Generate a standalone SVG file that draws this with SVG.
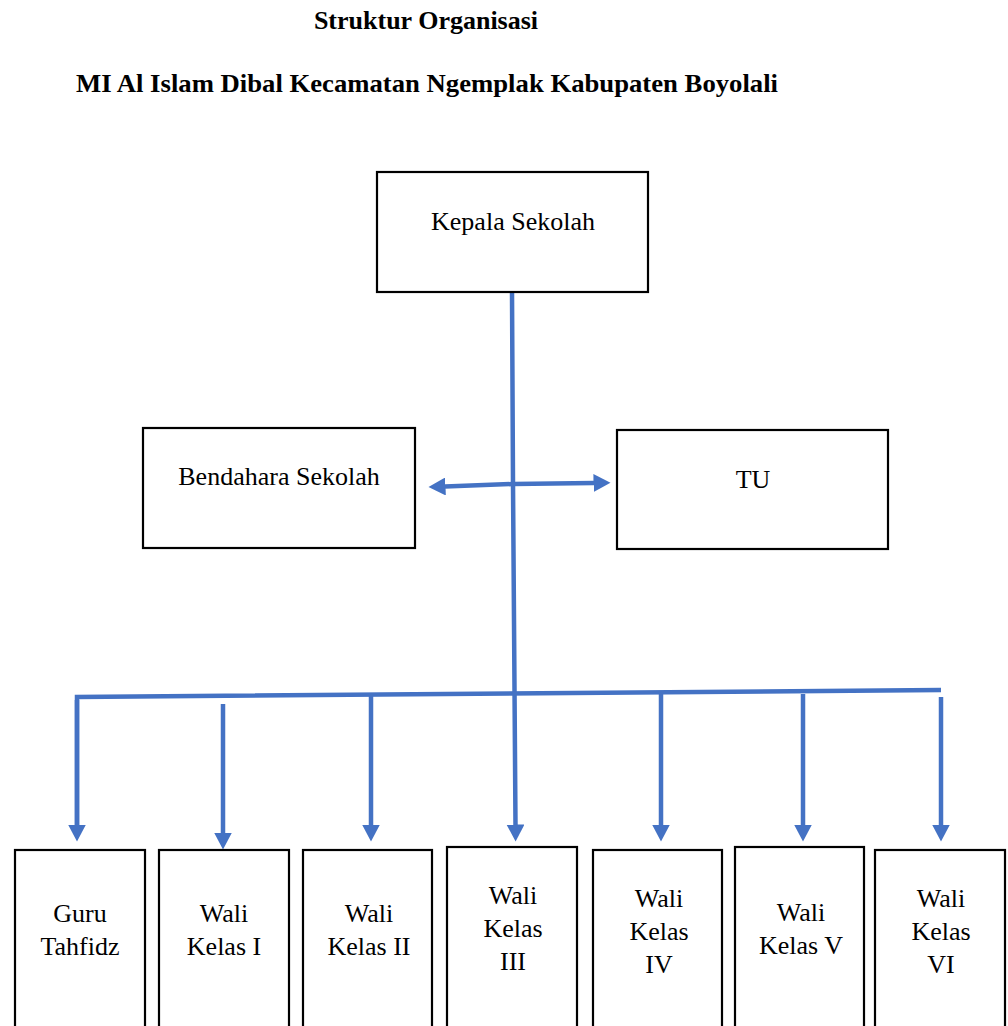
<svg xmlns="http://www.w3.org/2000/svg" width="1008" height="1026" viewBox="0 0 1008 1026">
<style>
  .box { fill: #ffffff; stroke: #000000; stroke-width: 2.2; }
  .t { font-family: "Liberation Serif", "Times New Roman", serif; font-size: 26px; fill: #000000; text-anchor: middle; }
  .title { font-family: "Liberation Serif", "Times New Roman", serif; font-size: 26px; font-weight: bold; fill: #000000; }
  .c { fill: none; stroke: #4472C4; stroke-width: 4.5; stroke-linejoin: miter; }
</style>
<defs>
  <marker id="ah" markerUnits="userSpaceOnUse" markerWidth="18" markerHeight="18" refX="0.5" refY="9" orient="auto">
    <path d="M0,0 L17,9 L0,18 z" fill="#4472C4"/>
  </marker>
</defs>
<rect width="1008" height="1026" fill="#ffffff"/>

<text class="title" x="426" y="29" text-anchor="middle">Struktur Organisasi</text>
<text class="title" x="76" y="92" textLength="702" lengthAdjust="spacingAndGlyphs">MI Al Islam Dibal Kecamatan Ngemplak Kabupaten Boyolali</text>

<g id="connectors">
  <polyline class="c" points="512,292 513,484 515.5,825" marker-end="url(#ah)"/>
  <polyline class="c" points="513,484 594,483" marker-end="url(#ah)"/>
  <polyline class="c" points="513,484 445,486.5" marker-end="url(#ah)"/>
  <polyline class="c" points="77,826 77,697 941,690"/>
  <line class="c" x1="223" y1="704" x2="223" y2="833" marker-end="url(#ah)"/>
  <line class="c" x1="371" y1="696" x2="371" y2="825" marker-end="url(#ah)"/>
  <line class="c" x1="77" y1="700" x2="77" y2="825" marker-end="url(#ah)"/>
  <line class="c" x1="661" y1="694" x2="661" y2="825" marker-end="url(#ah)"/>
  <line class="c" x1="803" y1="694" x2="803" y2="825" marker-end="url(#ah)"/>
  <line class="c" x1="941" y1="697" x2="941" y2="825" marker-end="url(#ah)"/>
</g>

<g id="kepala">
  <rect class="box" x="377" y="172" width="271" height="120"/>
  <text class="t" x="513" y="230">Kepala Sekolah</text>
</g>
<g id="bendahara">
  <rect class="box" x="143" y="428" width="272" height="120"/>
  <text class="t" x="279" y="485">Bendahara Sekolah</text>
</g>
<g id="tu">
  <rect class="box" x="617" y="430" width="271" height="119"/>
  <text class="t" x="753" y="488">TU</text>
</g>

<g id="guru">
  <rect class="box" x="15" y="850" width="130" height="200"/>
  <text class="t" x="80" y="922">Guru</text>
  <text class="t" x="80" y="955">Tahfidz</text>
</g>
<g id="wali1">
  <rect class="box" x="159" y="850" width="130" height="200"/>
  <text class="t" x="224" y="922">Wali</text>
  <text class="t" x="224" y="955">Kelas I</text>
</g>
<g id="wali2">
  <rect class="box" x="303" y="850" width="129" height="200"/>
  <text class="t" x="369" y="922">Wali</text>
  <text class="t" x="369" y="955">Kelas II</text>
</g>
<g id="wali3">
  <rect class="box" x="447" y="847" width="130" height="200"/>
  <text class="t" x="513" y="904">Wali</text>
  <text class="t" x="513" y="937">Kelas</text>
  <text class="t" x="513" y="970">III</text>
</g>
<g id="wali4">
  <rect class="box" x="593" y="850" width="129" height="200"/>
  <text class="t" x="659" y="907">Wali</text>
  <text class="t" x="659" y="940">Kelas</text>
  <text class="t" x="659" y="973">IV</text>
</g>
<g id="wali5">
  <rect class="box" x="735" y="847" width="129" height="200"/>
  <text class="t" x="801" y="921">Wali</text>
  <text class="t" x="801" y="954">Kelas V</text>
</g>
<g id="wali6">
  <rect class="box" x="875" y="850" width="130" height="200"/>
  <text class="t" x="941" y="907">Wali</text>
  <text class="t" x="941" y="940">Kelas</text>
  <text class="t" x="941" y="973">VI</text>
</g>
</svg>
